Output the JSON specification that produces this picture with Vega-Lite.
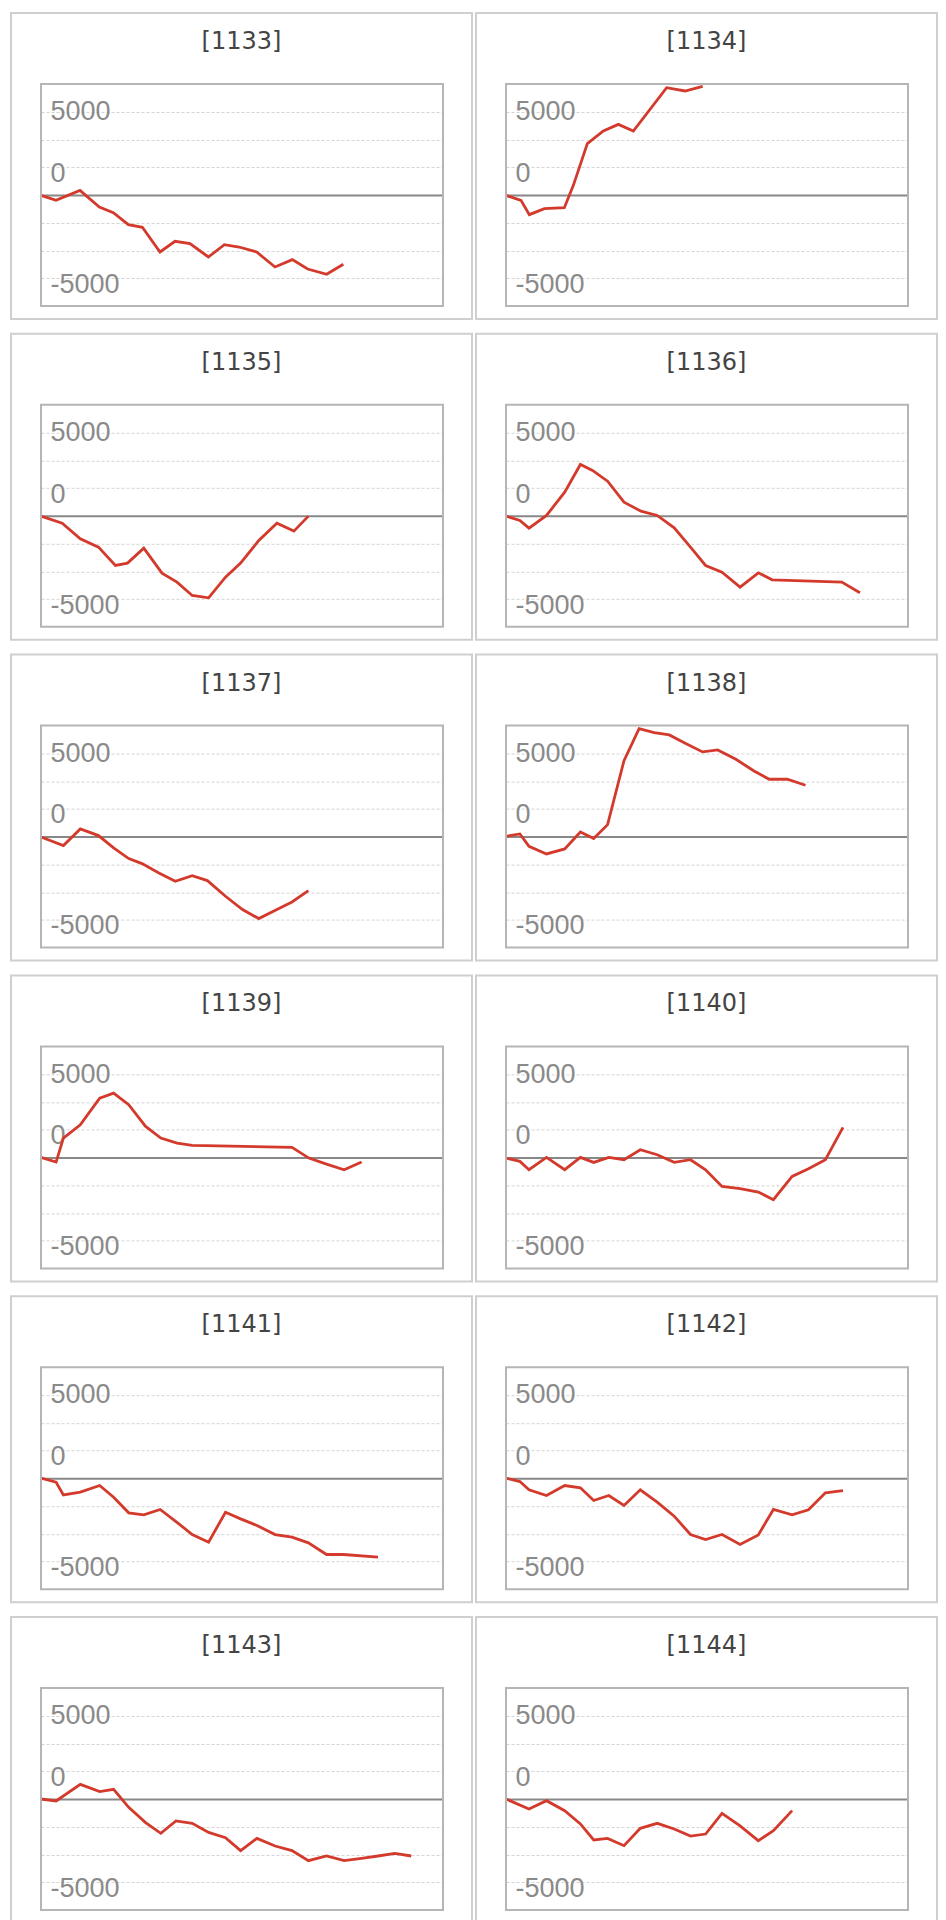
{
  "$schema": "https://vega.github.io/schema/vega-lite/v6.json",
  "background": "white",
  "padding": {"left": 10, "top": 12, "right": 0, "bottom": 0},
  "datasets": {
    "slump": [
      {"id":"1133","g":0,"v":-30},{"id":"1133","g":300,"v":-480},{"id":"1133","g":780,"v":420},{"id":"1133","g":1167,"v":-1080},{"id":"1133","g":1447,"v":-1590},{"id":"1133","g":1747,"v":-2670},{"id":"1133","g":2027,"v":-2910},{"id":"1133","g":2380,"v":-5135},{"id":"1133","g":2680,"v":-4175},{"id":"1133","g":2980,"v":-4385},{"id":"1133","g":3347,"v":-5585},{"id":"1133","g":3667,"v":-4475},{"id":"1133","g":3960,"v":-4685},{"id":"1133","g":4313,"v":-5135},{"id":"1133","g":4680,"v":-6485},{"id":"1133","g":5027,"v":-5825},{"id":"1133","g":5333,"v":-6665},{"id":"1133","g":5713,"v":-7145},{"id":"1133","g":6047,"v":-6245},
      {"id":"1134","g":0,"v":-30},{"id":"1134","g":300,"v":-480},{"id":"1134","g":467,"v":-1770},{"id":"1134","g":767,"v":-1230},{"id":"1134","g":1167,"v":-1140},{"id":"1134","g":1347,"v":870},{"id":"1134","g":1627,"v":4625},{"id":"1134","g":1947,"v":5765},{"id":"1134","g":2247,"v":6365},{"id":"1134","g":2547,"v":5765},{"id":"1134","g":3213,"v":9670},{"id":"1134","g":3580,"v":9370},{"id":"1134","g":3933,"v":9790},
      {"id":"1135","g":0,"v":-30},{"id":"1135","g":424,"v":-660},{"id":"1135","g":786,"v":-2070},{"id":"1135","g":1150,"v":-2820},{"id":"1135","g":1488,"v":-4475},{"id":"1135","g":1730,"v":-4265},{"id":"1135","g":2056,"v":-2910},{"id":"1135","g":2420,"v":-5165},{"id":"1135","g":2720,"v":-5975},{"id":"1135","g":3024,"v":-7175},{"id":"1135","g":3352,"v":-7385},{"id":"1135","g":3690,"v":-5525},{"id":"1135","g":3992,"v":-4265},{"id":"1135","g":4356,"v":-2220},{"id":"1135","g":4718,"v":-660},{"id":"1135","g":5058,"v":-1380},{"id":"1135","g":5348,"v":-30},
      {"id":"1136","g":0,"v":-30},{"id":"1136","g":278,"v":-420},{"id":"1136","g":460,"v":-1110},{"id":"1136","g":810,"v":30},{"id":"1136","g":1174,"v":2130},{"id":"1136","g":1488,"v":4625},{"id":"1136","g":1730,"v":4085},{"id":"1136","g":2032,"v":3120},{"id":"1136","g":2360,"v":1230},{"id":"1136","g":2700,"v":420},{"id":"1136","g":3024,"v":30},{"id":"1136","g":3364,"v":-1080},{"id":"1136","g":3690,"v":-2820},{"id":"1136","g":3992,"v":-4475},{"id":"1136","g":4320,"v":-5075},{"id":"1136","g":4682,"v":-6425},{"id":"1136","g":5046,"v":-5135},{"id":"1136","g":5324,"v":-5765},{"id":"1136","g":6716,"v":-5975},{"id":"1136","g":7078,"v":-6935},
      {"id":"1137","g":0,"v":-30},{"id":"1137","g":448,"v":-810},{"id":"1137","g":786,"v":690},{"id":"1137","g":1150,"v":90},{"id":"1137","g":1452,"v":-1020},{"id":"1137","g":1754,"v":-1980},{"id":"1137","g":2020,"v":-2430},{"id":"1137","g":2358,"v":-3270},{"id":"1137","g":2686,"v":-4025},{"id":"1137","g":3024,"v":-3515},{"id":"1137","g":3328,"v":-3965},{"id":"1137","g":3690,"v":-5375},{"id":"1137","g":4030,"v":-6575},{"id":"1137","g":4356,"v":-7385},{"id":"1137","g":4718,"v":-6575},{"id":"1137","g":5020,"v":-5885},{"id":"1137","g":5348,"v":-4865},
      {"id":"1138","g":0,"v":30},{"id":"1138","g":278,"v":240},{"id":"1138","g":460,"v":-870},{"id":"1138","g":810,"v":-1560},{"id":"1138","g":1174,"v":-1110},{"id":"1138","g":1488,"v":420},{"id":"1138","g":1754,"v":-180},{"id":"1138","g":2032,"v":1080},{"id":"1138","g":2360,"v":6845},{"id":"1138","g":2662,"v":9730},{"id":"1138","g":2964,"v":9370},{"id":"1138","g":3266,"v":9160},{"id":"1138","g":3594,"v":8380},{"id":"1138","g":3932,"v":7630},{"id":"1138","g":4234,"v":7810},{"id":"1138","g":4598,"v":6965},{"id":"1138","g":4960,"v":5915},{"id":"1138","g":5264,"v":5165},{"id":"1138","g":5626,"v":5165},{"id":"1138","g":5990,"v":4625},
      {"id":"1139","g":0,"v":0},{"id":"1139","g":302,"v":-420},{"id":"1139","g":448,"v":1740},{"id":"1139","g":786,"v":2940},{"id":"1139","g":1174,"v":5345},{"id":"1139","g":1452,"v":5795},{"id":"1139","g":1754,"v":4745},{"id":"1139","g":2092,"v":2790},{"id":"1139","g":2396,"v":1740},{"id":"1139","g":2722,"v":1290},{"id":"1139","g":3024,"v":1080},{"id":"1139","g":5020,"v":900},{"id":"1139","g":5358,"v":-60},{"id":"1139","g":5710,"v":-600},{"id":"1139","g":6062,"v":-1110},{"id":"1139","g":6412,"v":-420},
      {"id":"1140","g":0,"v":-60},{"id":"1140","g":278,"v":-360},{"id":"1140","g":460,"v":-1110},{"id":"1140","g":810,"v":0},{"id":"1140","g":1174,"v":-1110},{"id":"1140","g":1488,"v":0},{"id":"1140","g":1754,"v":-450},{"id":"1140","g":2056,"v":0},{"id":"1140","g":2360,"v":-210},{"id":"1140","g":2686,"v":690},{"id":"1140","g":3024,"v":240},{"id":"1140","g":3364,"v":-450},{"id":"1140","g":3690,"v":-210},{"id":"1140","g":3992,"v":-1110},{"id":"1140","g":4320,"v":-2610},{"id":"1140","g":4682,"v":-2820},{"id":"1140","g":5046,"v":-3120},{"id":"1140","g":5348,"v":-3815},{"id":"1140","g":5722,"v":-1710},{"id":"1140","g":6050,"v":-1020},{"id":"1140","g":6388,"v":-210},{"id":"1140","g":6740,"v":2700},
      {"id":"1141","g":0,"v":0},{"id":"1141","g":302,"v":-360},{"id":"1141","g":448,"v":-1500},{"id":"1141","g":786,"v":-1260},{"id":"1141","g":1174,"v":-660},{"id":"1141","g":1452,"v":-1710},{"id":"1141","g":1754,"v":-3120},{"id":"1141","g":2056,"v":-3305},{"id":"1141","g":2384,"v":-2820},{"id":"1141","g":2700,"v":-3905},{"id":"1141","g":3024,"v":-5075},{"id":"1141","g":3352,"v":-5765},{"id":"1141","g":3690,"v":-3065},{"id":"1141","g":3992,"v":-3665},{"id":"1141","g":4320,"v":-4265},{"id":"1141","g":4682,"v":-5075},{"id":"1141","g":5020,"v":-5315},{"id":"1141","g":5348,"v":-5825},{"id":"1141","g":5710,"v":-6875},{"id":"1141","g":6050,"v":-6875},{"id":"1141","g":6740,"v":-7115},
      {"id":"1142","g":0,"v":0},{"id":"1142","g":278,"v":-300},{"id":"1142","g":460,"v":-1050},{"id":"1142","g":810,"v":-1560},{"id":"1142","g":1174,"v":-660},{"id":"1142","g":1488,"v":-870},{"id":"1142","g":1754,"v":-2010},{"id":"1142","g":2056,"v":-1560},{"id":"1142","g":2360,"v":-2460},{"id":"1142","g":2686,"v":-1050},{"id":"1142","g":3024,"v":-2160},{"id":"1142","g":3364,"v":-3420},{"id":"1142","g":3690,"v":-5075},{"id":"1142","g":3992,"v":-5525},{"id":"1142","g":4320,"v":-5075},{"id":"1142","g":4682,"v":-5975},{"id":"1142","g":5046,"v":-5105},{"id":"1142","g":5348,"v":-2820},{"id":"1142","g":5722,"v":-3305},{"id":"1142","g":6050,"v":-2850},{"id":"1142","g":6388,"v":-1320},{"id":"1142","g":6740,"v":-1110},
      {"id":"1143","g":0,"v":0},{"id":"1143","g":302,"v":-180},{"id":"1143","g":786,"v":1320},{"id":"1143","g":1174,"v":660},{"id":"1143","g":1452,"v":870},{"id":"1143","g":1754,"v":-750},{"id":"1143","g":2092,"v":-2130},{"id":"1143","g":2396,"v":-3095},{"id":"1143","g":2698,"v":-1980},{"id":"1143","g":3024,"v":-2190},{"id":"1143","g":3352,"v":-3005},{"id":"1143","g":3690,"v":-3485},{"id":"1143","g":3992,"v":-4655},{"id":"1143","g":4320,"v":-3545},{"id":"1143","g":4682,"v":-4235},{"id":"1143","g":5020,"v":-4655},{"id":"1143","g":5348,"v":-5555},{"id":"1143","g":5710,"v":-5135},{"id":"1143","g":6062,"v":-5555},{"id":"1143","g":6412,"v":-5345},{"id":"1143","g":6740,"v":-5135},{"id":"1143","g":7078,"v":-4895},{"id":"1143","g":7404,"v":-5135},
      {"id":"1144","g":0,"v":0},{"id":"1144","g":460,"v":-900},{"id":"1144","g":810,"v":-150},{"id":"1144","g":1174,"v":-1050},{"id":"1144","g":1488,"v":-2250},{"id":"1144","g":1754,"v":-3690},{"id":"1144","g":2032,"v":-3545},{"id":"1144","g":2360,"v":-4205},{"id":"1144","g":2686,"v":-2640},{"id":"1144","g":3024,"v":-2190},{"id":"1144","g":3364,"v":-2700},{"id":"1144","g":3690,"v":-3335},{"id":"1144","g":3992,"v":-3155},{"id":"1144","g":4320,"v":-1290},{"id":"1144","g":4682,"v":-2430},{"id":"1144","g":5046,"v":-3755},{"id":"1144","g":5348,"v":-2850},{"id":"1144","g":5722,"v":-1050}
    ]
  },
  "columns": 2,
  "spacing": {"row": 12.8, "column": 2},
  "concat": [
    {"title": "[1133]", "width": 461, "height": 306, "layer": [
      {"data": {"name": "slump"}, "transform": [{"filter": "datum.id == '1133'"}], "mark": {"type": "line", "color": "#d33a2c", "strokeWidth": 2.8}, "encoding": {"x": {"field": "g", "type": "quantitative", "scale": {"domain": [0, 8040], "range": [30, 432], "nice": false, "zero": false}, "axis": null}, "y": {"field": "v", "type": "quantitative", "scale": {"domain": [-10000, 10000], "range": [293, 71], "nice": false, "zero": false}, "axis": {"values": [-7500, -5000, -2500, 0, 2500, 5000, 7500], "offset": -30, "domain": false, "ticks": false, "tickSize": 0, "labelPadding": -9, "labelAlign": "left", "labelOverlap": false, "labelFlush": false, "labelExpr": "datum.value == 7500 ? '5000' : datum.value == 2500 ? '0' : datum.value == -7500 ? '-5000' : ''", "labelOffset": {"condition": {"test": "datum.value == 7500", "value": 0}, "value": 6}, "grid": true, "gridColor": {"condition": {"test": "datum.value == 0", "value": "#888888"}, "value": "#d4d4d4"}, "gridWidth": {"condition": {"test": "datum.value == 0", "value": 2}, "value": 1}, "gridDash": {"condition": {"test": "datum.value == 0", "value": []}, "value": [3, 2]}, "title": null}}}},
      {"data": {"values": [{}]}, "mark": {"type": "rect", "fillOpacity": 0, "stroke": "#b5b5b5", "strokeWidth": 2}, "encoding": {"x": {"datum": 0, "type": "quantitative"}, "x2": {"datum": 8040}, "y": {"datum": -10000, "type": "quantitative"}, "y2": {"datum": 10000}}}
    ]},
    {"title": "[1134]", "width": 461, "height": 306, "layer": [
      {"data": {"name": "slump"}, "transform": [{"filter": "datum.id == '1134'"}], "mark": {"type": "line", "color": "#d33a2c", "strokeWidth": 2.8}, "encoding": {"x": {"field": "g", "type": "quantitative", "scale": {"domain": [0, 8040], "range": [30, 432], "nice": false, "zero": false}, "axis": null}, "y": {"field": "v", "type": "quantitative", "scale": {"domain": [-10000, 10000], "range": [293, 71], "nice": false, "zero": false}, "axis": {"values": [-7500, -5000, -2500, 0, 2500, 5000, 7500], "offset": -30, "domain": false, "ticks": false, "tickSize": 0, "labelPadding": -9, "labelAlign": "left", "labelOverlap": false, "labelFlush": false, "labelExpr": "datum.value == 7500 ? '5000' : datum.value == 2500 ? '0' : datum.value == -7500 ? '-5000' : ''", "labelOffset": {"condition": {"test": "datum.value == 7500", "value": 0}, "value": 6}, "grid": true, "gridColor": {"condition": {"test": "datum.value == 0", "value": "#888888"}, "value": "#d4d4d4"}, "gridWidth": {"condition": {"test": "datum.value == 0", "value": 2}, "value": 1}, "gridDash": {"condition": {"test": "datum.value == 0", "value": []}, "value": [3, 2]}, "title": null}}}},
      {"data": {"values": [{}]}, "mark": {"type": "rect", "fillOpacity": 0, "stroke": "#b5b5b5", "strokeWidth": 2}, "encoding": {"x": {"datum": 0, "type": "quantitative"}, "x2": {"datum": 8040}, "y": {"datum": -10000, "type": "quantitative"}, "y2": {"datum": 10000}}}
    ]},
    {"title": "[1135]", "width": 461, "height": 306, "layer": [
      {"data": {"name": "slump"}, "transform": [{"filter": "datum.id == '1135'"}], "mark": {"type": "line", "color": "#d33a2c", "strokeWidth": 2.8}, "encoding": {"x": {"field": "g", "type": "quantitative", "scale": {"domain": [0, 8040], "range": [30, 432], "nice": false, "zero": false}, "axis": null}, "y": {"field": "v", "type": "quantitative", "scale": {"domain": [-10000, 10000], "range": [293, 71], "nice": false, "zero": false}, "axis": {"values": [-7500, -5000, -2500, 0, 2500, 5000, 7500], "offset": -30, "domain": false, "ticks": false, "tickSize": 0, "labelPadding": -9, "labelAlign": "left", "labelOverlap": false, "labelFlush": false, "labelExpr": "datum.value == 7500 ? '5000' : datum.value == 2500 ? '0' : datum.value == -7500 ? '-5000' : ''", "labelOffset": {"condition": {"test": "datum.value == 7500", "value": 0}, "value": 6}, "grid": true, "gridColor": {"condition": {"test": "datum.value == 0", "value": "#888888"}, "value": "#d4d4d4"}, "gridWidth": {"condition": {"test": "datum.value == 0", "value": 2}, "value": 1}, "gridDash": {"condition": {"test": "datum.value == 0", "value": []}, "value": [3, 2]}, "title": null}}}},
      {"data": {"values": [{}]}, "mark": {"type": "rect", "fillOpacity": 0, "stroke": "#b5b5b5", "strokeWidth": 2}, "encoding": {"x": {"datum": 0, "type": "quantitative"}, "x2": {"datum": 8040}, "y": {"datum": -10000, "type": "quantitative"}, "y2": {"datum": 10000}}}
    ]},
    {"title": "[1136]", "width": 461, "height": 306, "layer": [
      {"data": {"name": "slump"}, "transform": [{"filter": "datum.id == '1136'"}], "mark": {"type": "line", "color": "#d33a2c", "strokeWidth": 2.8}, "encoding": {"x": {"field": "g", "type": "quantitative", "scale": {"domain": [0, 8040], "range": [30, 432], "nice": false, "zero": false}, "axis": null}, "y": {"field": "v", "type": "quantitative", "scale": {"domain": [-10000, 10000], "range": [293, 71], "nice": false, "zero": false}, "axis": {"values": [-7500, -5000, -2500, 0, 2500, 5000, 7500], "offset": -30, "domain": false, "ticks": false, "tickSize": 0, "labelPadding": -9, "labelAlign": "left", "labelOverlap": false, "labelFlush": false, "labelExpr": "datum.value == 7500 ? '5000' : datum.value == 2500 ? '0' : datum.value == -7500 ? '-5000' : ''", "labelOffset": {"condition": {"test": "datum.value == 7500", "value": 0}, "value": 6}, "grid": true, "gridColor": {"condition": {"test": "datum.value == 0", "value": "#888888"}, "value": "#d4d4d4"}, "gridWidth": {"condition": {"test": "datum.value == 0", "value": 2}, "value": 1}, "gridDash": {"condition": {"test": "datum.value == 0", "value": []}, "value": [3, 2]}, "title": null}}}},
      {"data": {"values": [{}]}, "mark": {"type": "rect", "fillOpacity": 0, "stroke": "#b5b5b5", "strokeWidth": 2}, "encoding": {"x": {"datum": 0, "type": "quantitative"}, "x2": {"datum": 8040}, "y": {"datum": -10000, "type": "quantitative"}, "y2": {"datum": 10000}}}
    ]},
    {"title": "[1137]", "width": 461, "height": 306, "layer": [
      {"data": {"name": "slump"}, "transform": [{"filter": "datum.id == '1137'"}], "mark": {"type": "line", "color": "#d33a2c", "strokeWidth": 2.8}, "encoding": {"x": {"field": "g", "type": "quantitative", "scale": {"domain": [0, 8040], "range": [30, 432], "nice": false, "zero": false}, "axis": null}, "y": {"field": "v", "type": "quantitative", "scale": {"domain": [-10000, 10000], "range": [293, 71], "nice": false, "zero": false}, "axis": {"values": [-7500, -5000, -2500, 0, 2500, 5000, 7500], "offset": -30, "domain": false, "ticks": false, "tickSize": 0, "labelPadding": -9, "labelAlign": "left", "labelOverlap": false, "labelFlush": false, "labelExpr": "datum.value == 7500 ? '5000' : datum.value == 2500 ? '0' : datum.value == -7500 ? '-5000' : ''", "labelOffset": {"condition": {"test": "datum.value == 7500", "value": 0}, "value": 6}, "grid": true, "gridColor": {"condition": {"test": "datum.value == 0", "value": "#888888"}, "value": "#d4d4d4"}, "gridWidth": {"condition": {"test": "datum.value == 0", "value": 2}, "value": 1}, "gridDash": {"condition": {"test": "datum.value == 0", "value": []}, "value": [3, 2]}, "title": null}}}},
      {"data": {"values": [{}]}, "mark": {"type": "rect", "fillOpacity": 0, "stroke": "#b5b5b5", "strokeWidth": 2}, "encoding": {"x": {"datum": 0, "type": "quantitative"}, "x2": {"datum": 8040}, "y": {"datum": -10000, "type": "quantitative"}, "y2": {"datum": 10000}}}
    ]},
    {"title": "[1138]", "width": 461, "height": 306, "layer": [
      {"data": {"name": "slump"}, "transform": [{"filter": "datum.id == '1138'"}], "mark": {"type": "line", "color": "#d33a2c", "strokeWidth": 2.8}, "encoding": {"x": {"field": "g", "type": "quantitative", "scale": {"domain": [0, 8040], "range": [30, 432], "nice": false, "zero": false}, "axis": null}, "y": {"field": "v", "type": "quantitative", "scale": {"domain": [-10000, 10000], "range": [293, 71], "nice": false, "zero": false}, "axis": {"values": [-7500, -5000, -2500, 0, 2500, 5000, 7500], "offset": -30, "domain": false, "ticks": false, "tickSize": 0, "labelPadding": -9, "labelAlign": "left", "labelOverlap": false, "labelFlush": false, "labelExpr": "datum.value == 7500 ? '5000' : datum.value == 2500 ? '0' : datum.value == -7500 ? '-5000' : ''", "labelOffset": {"condition": {"test": "datum.value == 7500", "value": 0}, "value": 6}, "grid": true, "gridColor": {"condition": {"test": "datum.value == 0", "value": "#888888"}, "value": "#d4d4d4"}, "gridWidth": {"condition": {"test": "datum.value == 0", "value": 2}, "value": 1}, "gridDash": {"condition": {"test": "datum.value == 0", "value": []}, "value": [3, 2]}, "title": null}}}},
      {"data": {"values": [{}]}, "mark": {"type": "rect", "fillOpacity": 0, "stroke": "#b5b5b5", "strokeWidth": 2}, "encoding": {"x": {"datum": 0, "type": "quantitative"}, "x2": {"datum": 8040}, "y": {"datum": -10000, "type": "quantitative"}, "y2": {"datum": 10000}}}
    ]},
    {"title": "[1139]", "width": 461, "height": 306, "layer": [
      {"data": {"name": "slump"}, "transform": [{"filter": "datum.id == '1139'"}], "mark": {"type": "line", "color": "#d33a2c", "strokeWidth": 2.8}, "encoding": {"x": {"field": "g", "type": "quantitative", "scale": {"domain": [0, 8040], "range": [30, 432], "nice": false, "zero": false}, "axis": null}, "y": {"field": "v", "type": "quantitative", "scale": {"domain": [-10000, 10000], "range": [293, 71], "nice": false, "zero": false}, "axis": {"values": [-7500, -5000, -2500, 0, 2500, 5000, 7500], "offset": -30, "domain": false, "ticks": false, "tickSize": 0, "labelPadding": -9, "labelAlign": "left", "labelOverlap": false, "labelFlush": false, "labelExpr": "datum.value == 7500 ? '5000' : datum.value == 2500 ? '0' : datum.value == -7500 ? '-5000' : ''", "labelOffset": {"condition": {"test": "datum.value == 7500", "value": 0}, "value": 6}, "grid": true, "gridColor": {"condition": {"test": "datum.value == 0", "value": "#888888"}, "value": "#d4d4d4"}, "gridWidth": {"condition": {"test": "datum.value == 0", "value": 2}, "value": 1}, "gridDash": {"condition": {"test": "datum.value == 0", "value": []}, "value": [3, 2]}, "title": null}}}},
      {"data": {"values": [{}]}, "mark": {"type": "rect", "fillOpacity": 0, "stroke": "#b5b5b5", "strokeWidth": 2}, "encoding": {"x": {"datum": 0, "type": "quantitative"}, "x2": {"datum": 8040}, "y": {"datum": -10000, "type": "quantitative"}, "y2": {"datum": 10000}}}
    ]},
    {"title": "[1140]", "width": 461, "height": 306, "layer": [
      {"data": {"name": "slump"}, "transform": [{"filter": "datum.id == '1140'"}], "mark": {"type": "line", "color": "#d33a2c", "strokeWidth": 2.8}, "encoding": {"x": {"field": "g", "type": "quantitative", "scale": {"domain": [0, 8040], "range": [30, 432], "nice": false, "zero": false}, "axis": null}, "y": {"field": "v", "type": "quantitative", "scale": {"domain": [-10000, 10000], "range": [293, 71], "nice": false, "zero": false}, "axis": {"values": [-7500, -5000, -2500, 0, 2500, 5000, 7500], "offset": -30, "domain": false, "ticks": false, "tickSize": 0, "labelPadding": -9, "labelAlign": "left", "labelOverlap": false, "labelFlush": false, "labelExpr": "datum.value == 7500 ? '5000' : datum.value == 2500 ? '0' : datum.value == -7500 ? '-5000' : ''", "labelOffset": {"condition": {"test": "datum.value == 7500", "value": 0}, "value": 6}, "grid": true, "gridColor": {"condition": {"test": "datum.value == 0", "value": "#888888"}, "value": "#d4d4d4"}, "gridWidth": {"condition": {"test": "datum.value == 0", "value": 2}, "value": 1}, "gridDash": {"condition": {"test": "datum.value == 0", "value": []}, "value": [3, 2]}, "title": null}}}},
      {"data": {"values": [{}]}, "mark": {"type": "rect", "fillOpacity": 0, "stroke": "#b5b5b5", "strokeWidth": 2}, "encoding": {"x": {"datum": 0, "type": "quantitative"}, "x2": {"datum": 8040}, "y": {"datum": -10000, "type": "quantitative"}, "y2": {"datum": 10000}}}
    ]},
    {"title": "[1141]", "width": 461, "height": 306, "layer": [
      {"data": {"name": "slump"}, "transform": [{"filter": "datum.id == '1141'"}], "mark": {"type": "line", "color": "#d33a2c", "strokeWidth": 2.8}, "encoding": {"x": {"field": "g", "type": "quantitative", "scale": {"domain": [0, 8040], "range": [30, 432], "nice": false, "zero": false}, "axis": null}, "y": {"field": "v", "type": "quantitative", "scale": {"domain": [-10000, 10000], "range": [293, 71], "nice": false, "zero": false}, "axis": {"values": [-7500, -5000, -2500, 0, 2500, 5000, 7500], "offset": -30, "domain": false, "ticks": false, "tickSize": 0, "labelPadding": -9, "labelAlign": "left", "labelOverlap": false, "labelFlush": false, "labelExpr": "datum.value == 7500 ? '5000' : datum.value == 2500 ? '0' : datum.value == -7500 ? '-5000' : ''", "labelOffset": {"condition": {"test": "datum.value == 7500", "value": 0}, "value": 6}, "grid": true, "gridColor": {"condition": {"test": "datum.value == 0", "value": "#888888"}, "value": "#d4d4d4"}, "gridWidth": {"condition": {"test": "datum.value == 0", "value": 2}, "value": 1}, "gridDash": {"condition": {"test": "datum.value == 0", "value": []}, "value": [3, 2]}, "title": null}}}},
      {"data": {"values": [{}]}, "mark": {"type": "rect", "fillOpacity": 0, "stroke": "#b5b5b5", "strokeWidth": 2}, "encoding": {"x": {"datum": 0, "type": "quantitative"}, "x2": {"datum": 8040}, "y": {"datum": -10000, "type": "quantitative"}, "y2": {"datum": 10000}}}
    ]},
    {"title": "[1142]", "width": 461, "height": 306, "layer": [
      {"data": {"name": "slump"}, "transform": [{"filter": "datum.id == '1142'"}], "mark": {"type": "line", "color": "#d33a2c", "strokeWidth": 2.8}, "encoding": {"x": {"field": "g", "type": "quantitative", "scale": {"domain": [0, 8040], "range": [30, 432], "nice": false, "zero": false}, "axis": null}, "y": {"field": "v", "type": "quantitative", "scale": {"domain": [-10000, 10000], "range": [293, 71], "nice": false, "zero": false}, "axis": {"values": [-7500, -5000, -2500, 0, 2500, 5000, 7500], "offset": -30, "domain": false, "ticks": false, "tickSize": 0, "labelPadding": -9, "labelAlign": "left", "labelOverlap": false, "labelFlush": false, "labelExpr": "datum.value == 7500 ? '5000' : datum.value == 2500 ? '0' : datum.value == -7500 ? '-5000' : ''", "labelOffset": {"condition": {"test": "datum.value == 7500", "value": 0}, "value": 6}, "grid": true, "gridColor": {"condition": {"test": "datum.value == 0", "value": "#888888"}, "value": "#d4d4d4"}, "gridWidth": {"condition": {"test": "datum.value == 0", "value": 2}, "value": 1}, "gridDash": {"condition": {"test": "datum.value == 0", "value": []}, "value": [3, 2]}, "title": null}}}},
      {"data": {"values": [{}]}, "mark": {"type": "rect", "fillOpacity": 0, "stroke": "#b5b5b5", "strokeWidth": 2}, "encoding": {"x": {"datum": 0, "type": "quantitative"}, "x2": {"datum": 8040}, "y": {"datum": -10000, "type": "quantitative"}, "y2": {"datum": 10000}}}
    ]},
    {"title": "[1143]", "width": 461, "height": 306, "layer": [
      {"data": {"name": "slump"}, "transform": [{"filter": "datum.id == '1143'"}], "mark": {"type": "line", "color": "#d33a2c", "strokeWidth": 2.8}, "encoding": {"x": {"field": "g", "type": "quantitative", "scale": {"domain": [0, 8040], "range": [30, 432], "nice": false, "zero": false}, "axis": null}, "y": {"field": "v", "type": "quantitative", "scale": {"domain": [-10000, 10000], "range": [293, 71], "nice": false, "zero": false}, "axis": {"values": [-7500, -5000, -2500, 0, 2500, 5000, 7500], "offset": -30, "domain": false, "ticks": false, "tickSize": 0, "labelPadding": -9, "labelAlign": "left", "labelOverlap": false, "labelFlush": false, "labelExpr": "datum.value == 7500 ? '5000' : datum.value == 2500 ? '0' : datum.value == -7500 ? '-5000' : ''", "labelOffset": {"condition": {"test": "datum.value == 7500", "value": 0}, "value": 6}, "grid": true, "gridColor": {"condition": {"test": "datum.value == 0", "value": "#888888"}, "value": "#d4d4d4"}, "gridWidth": {"condition": {"test": "datum.value == 0", "value": 2}, "value": 1}, "gridDash": {"condition": {"test": "datum.value == 0", "value": []}, "value": [3, 2]}, "title": null}}}},
      {"data": {"values": [{}]}, "mark": {"type": "rect", "fillOpacity": 0, "stroke": "#b5b5b5", "strokeWidth": 2}, "encoding": {"x": {"datum": 0, "type": "quantitative"}, "x2": {"datum": 8040}, "y": {"datum": -10000, "type": "quantitative"}, "y2": {"datum": 10000}}}
    ]},
    {"title": "[1144]", "width": 461, "height": 306, "layer": [
      {"data": {"name": "slump"}, "transform": [{"filter": "datum.id == '1144'"}], "mark": {"type": "line", "color": "#d33a2c", "strokeWidth": 2.8}, "encoding": {"x": {"field": "g", "type": "quantitative", "scale": {"domain": [0, 8040], "range": [30, 432], "nice": false, "zero": false}, "axis": null}, "y": {"field": "v", "type": "quantitative", "scale": {"domain": [-10000, 10000], "range": [293, 71], "nice": false, "zero": false}, "axis": {"values": [-7500, -5000, -2500, 0, 2500, 5000, 7500], "offset": -30, "domain": false, "ticks": false, "tickSize": 0, "labelPadding": -9, "labelAlign": "left", "labelOverlap": false, "labelFlush": false, "labelExpr": "datum.value == 7500 ? '5000' : datum.value == 2500 ? '0' : datum.value == -7500 ? '-5000' : ''", "labelOffset": {"condition": {"test": "datum.value == 7500", "value": 0}, "value": 6}, "grid": true, "gridColor": {"condition": {"test": "datum.value == 0", "value": "#888888"}, "value": "#d4d4d4"}, "gridWidth": {"condition": {"test": "datum.value == 0", "value": 2}, "value": 1}, "gridDash": {"condition": {"test": "datum.value == 0", "value": []}, "value": [3, 2]}, "title": null}}}},
      {"data": {"values": [{}]}, "mark": {"type": "rect", "fillOpacity": 0, "stroke": "#b5b5b5", "strokeWidth": 2}, "encoding": {"x": {"datum": 0, "type": "quantitative"}, "x2": {"datum": 8040}, "y": {"datum": -10000, "type": "quantitative"}, "y2": {"datum": 10000}}}
    ]}
  ],
  "config": {
    "view": {"stroke": "#cfcfcf", "strokeWidth": 2},
    "title": {"font": "DejaVu Sans", "fontSize": 24, "fontWeight": "normal", "color": "#444444", "anchor": "middle", "baseline": "middle", "offset": -41},
    "axis": {"labelFont": "Liberation Sans", "labelFontSize": 27, "labelColor": "#8a8a8a"}
  }
}
